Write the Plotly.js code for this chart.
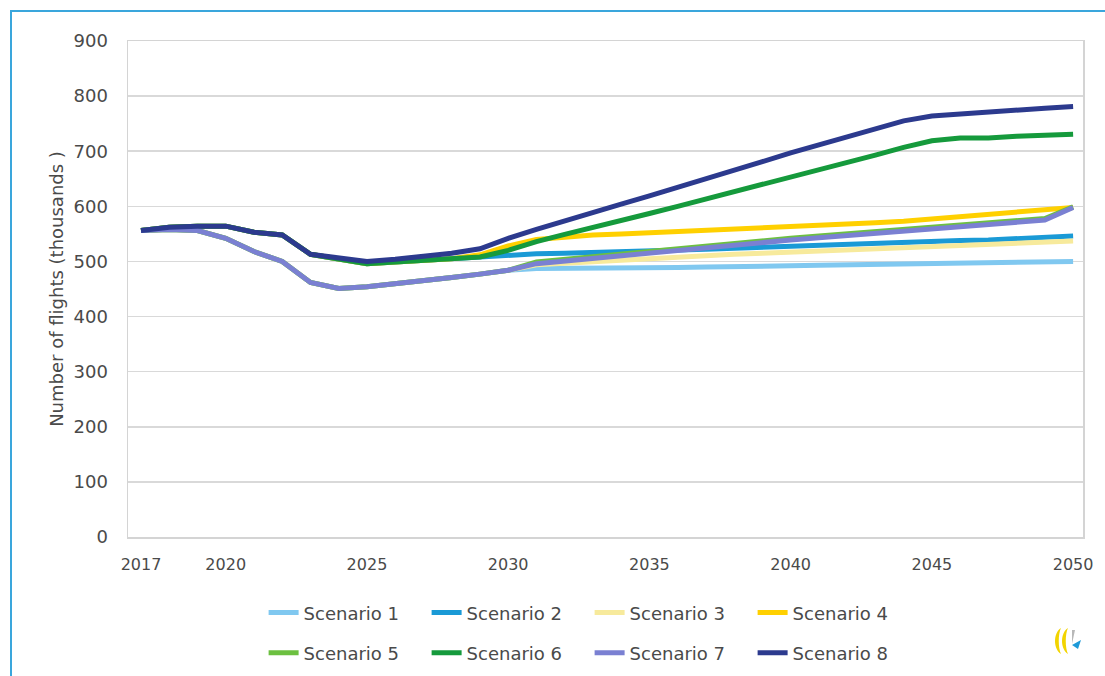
<!DOCTYPE html>
<html>
<head>
<meta charset="utf-8">
<script src="https://cdn.plot.ly/plotly-3.0.1.min.js"></script>
<style>
  html, body { margin: 0; padding: 0; background: #ffffff; }
  #wrap { position: relative; width: 1105px; height: 676px; overflow: hidden; }
  #chart { position: absolute; left: 0; top: 0; width: 1105px; height: 676px; }
  #frame { position: absolute; left: 10px; top: 10px; width: 1200px; height: 800px;
           border-top: 2px solid #3aa6dc; border-left: 2px solid #3aa6dc; pointer-events: none; }
  #logo { position: absolute; left: 1050px; top: 624px; pointer-events: none; }
</style>
</head>
<body>
<div id="wrap">
  <div id="chart"></div>
  <div id="frame"></div>
  <svg id="logo" width="36" height="34" viewBox="0 0 36 34">
    <path d="M11,4 C3,9 3,25 11,30 C8,24 8,10 11,4 Z" fill="#f2d400"/>
    <path d="M18,4 C10,9 10,25 18,30 C15,24 15,10 18,4 Z" fill="#f2d400"/>
    <path d="M22,6 L25,6 L22,20 Z" fill="#b8b8b8"/>
    <path d="M22,21 L31,16 L28,25 Z" fill="#1e9ad8"/>
  </svg>
</div>
<script>
const years = [2017,2018,2019,2020,2021,2022,2023,2024,2025,2026,2027,2028,2029,2030,2031,2032,2033,2034,2035,2036,2037,2038,2039,2040,2041,2042,2043,2044,2045,2046,2047,2048,2049,2050];

const scenario1 = [556,558,556,542,518,500,462,451,454,459,465,471,477,484,487,487,487,488,488,489,490,490,491,492,493,494,495,496,497,497,498,498,499,500];
const scenario2 = [556,562,564,564,553,548,513,505,496,499,502,505,509,512,514,515,516,517,518,520,522,524,526,528,530,532,534,536,537,538,539,541,543,546];
const scenario3 = [556,558,556,542,518,500,462,451,454,459,465,471,477,484,494,497,499,501,504,507,510,513,515,517,519,521,522,524,526,528,530,532,534,537];
const scenario4 = [556,562,564,564,553,548,513,505,496,499,502,505,512,528,540,545,548,550,552,554,557,559,561,564,566,568,570,573,577,580,584,588,592,598];
const scenario5 = [556,558,556,542,518,500,462,451,454,459,465,471,477,484,499,504,508,513,518,523,529,533,538,542,546,550,554,559,563,567,570,574,578,599];
const scenario6 = [556,562,564,564,553,548,513,505,496,499,502,505,508,520,536,549,561,574,587,600,613,626,639,652,665,679,693,707,719,724,724,727,729,731];
const scenario7 = [556,558,556,542,518,500,462,451,454,459,465,471,477,484,496,501,505,510,515,520,526,530,535,539,543,547,551,556,560,564,567,571,575,598];
const scenario8 = [556,562,564,564,553,548,513,506,500,504,509,515,523,542,558,574,589,604,619,634,650,665,681,697,712,727,741,755,764,768,771,774,778,781];

const seriesNames = ["Scenario 1","Scenario 2","Scenario 3","Scenario 4","Scenario 5","Scenario 6","Scenario 7","Scenario 8"];
const seriesValues = [scenario1,scenario2,scenario3,scenario4,scenario5,scenario6,scenario7,scenario8];
const seriesColors = ["#80c8f0","#1a9ad6","#f7ea9c","#ffd000","#6cc040","#159a3c","#7a80d2","#2c3a8e"];

const xTickVals = [2017,2020,2025,2030,2035,2040,2045,2050];
const yTickVals = [0,100,200,300,400,500,600,700,800,900];

const FONT = "DejaVu Sans, Verdana, sans-serif";
const TXT = "#4a4a4a";

const traces = seriesNames.map((name, i) => ({
  type: "scatter",
  mode: "lines",
  name: name,
  x: years,
  y: seriesValues[i],
  line: { color: seriesColors[i], width: 5 },
  legend: i < 4 ? "legend" : "legend2",
  hoverinfo: "skip"
}));

const legendCommon = {
  orientation: "h",
  xanchor: "left",
  yanchor: "middle",
  x: 0.142,
  font: { family: FONT, size: 18, color: TXT },
  bgcolor: "rgba(0,0,0,0)",
  entrywidth: 118,
  entrywidthmode: "pixels",
  itemwidth: 30,
  traceorder: "normal"
};

const layout = {
  width: 1105,
  height: 676,
  margin: { l: 128, r: 22, t: 41, b: 139, autoexpand: false },
  paper_bgcolor: "#ffffff",
  plot_bgcolor: "#ffffff",
  showlegend: true,
  xaxis: {
    range: [2016.54, 2050.35],
    tickvals: xTickVals,
    ticktext: xTickVals.map(String),
    showgrid: false,
    zeroline: false,
    showline: true,
    mirror: true,
    linecolor: "#d4d4d4",
    linewidth: 1.5,
    ticks: "",
    ticklabelstandoff: 12,
    tickfont: { family: FONT, size: 16, color: TXT },
    automargin: false
  },
  yaxis: {
    range: [0, 900],
    tickvals: yTickVals,
    showgrid: true,
    gridcolor: "#d9d9d9",
    gridwidth: 1.5,
    zeroline: false,
    showline: true,
    mirror: true,
    linecolor: "#d4d4d4",
    linewidth: 1.5,
    ticks: "",
    ticklabelstandoff: 15,
    tickfont: { family: FONT, size: 18, color: TXT },
    automargin: false,
    title: { text: "Number of flights (thousands )", font: { family: FONT, size: 18, color: TXT }, standoff: 5 }
  },
  legend: Object.assign({}, legendCommon, { y: -0.153 }),
  legend2: Object.assign({}, legendCommon, { y: -0.234 })
};

Plotly.newPlot("chart", traces, layout, { staticPlot: true, displayModeBar: false });
</script>
</body>
</html>
